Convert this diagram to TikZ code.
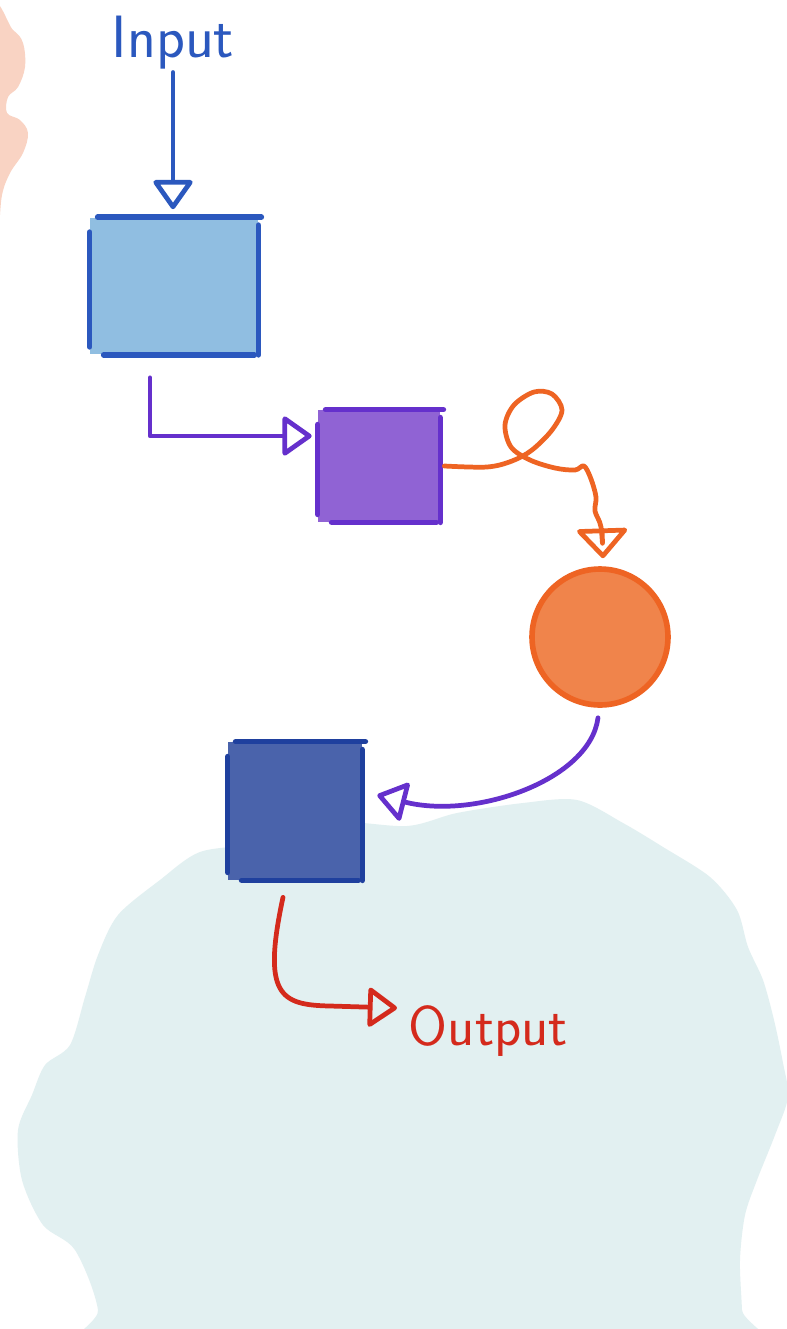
\documentclass[tikz,border=0pt]{standalone}
\usepackage{fontspec}
\usetikzlibrary{arrows.meta,positioning,calc}

\definecolor{inkblue}{HTML}{2B58BE}
\definecolor{inkpurple}{HTML}{6530CC}
\definecolor{inkorange}{HTML}{EE6423}
\definecolor{inknavy}{HTML}{1F409E}
\definecolor{inkred}{HTML}{D42A1C}
\definecolor{boxblue}{HTML}{90BEE1}
\definecolor{boxpurple}{HTML}{9063D4}
\definecolor{boxnavy}{HTML}{4A63AB}
\definecolor{dotorange}{HTML}{F0844B}
\definecolor{washcyan}{HTML}{E2F0F1}
\definecolor{washpink}{HTML}{F9D3C3}

\begin{document}
\begin{tikzpicture}[x=0.02cm, y=-0.02cm,
      box/.style   = {rectangle, draw=none, inner sep=0pt},
      edge/.style  = {line width=3.2pt, line cap=round},
      arrow/.style = {line width=2.7pt, line cap=round, line join=round,
                      -{Triangle[open, round, length=0.62cm, width=0.85cm]}},
      txt/.style   = {inner sep=2pt, font=\sffamily\fontsize{32}{34}\selectfont}
    ]
    % page and watercolour washes
    \useasboundingbox (0,0) rectangle (787,1329);
    \fill[white] (0,0) rectangle (787,1329);
    \begin{scope}
      \clip (0,0) rectangle (787,1329);
      \fill[washpink] plot[smooth cycle, tension=0.6] coordinates {
        (-10,15) (13,30) (23,43) (25,67) (18,87) (8,97) (7,113) (20,120)
        (28,133) (23,153) (10,173) (2,195) (-2,230) (-12,240)};
      \fill[washcyan] plot[smooth cycle, tension=0.5] coordinates {
        (200,852) (260,843) (330,822) (407,826) (457,813) (523,803)
        (577,800) (623,823) (663,847) (710,877) (737,910) (748,947)
        (763,980) (774,1020) (783,1063) (788,1097) (775,1135) (757,1180)
        (745,1215) (740,1260) (742,1310) (745,1380) (95,1380) (98,1310)
        (75,1250) (43,1225) (22,1180) (18,1130) (32,1095) (45,1065)
        (70,1045) (85,997) (98,955) (118,915) (160,880)};
    \end{scope}

    % nodes
    \node[txt, inkblue, font=\sffamily\fontsize{34}{36}\selectfont, anchor=base]
      (input) at (173,57) {Input};
    \node[box, fill=boxblue, minimum width=3.36cm, minimum height=2.74cm]
      (b1) at (174,286) {};
    \node[box, fill=boxpurple, minimum width=2.44cm, minimum height=2.24cm]
      (b2) at (379,466) {};
    \node[circle, fill=dotorange, draw=inkorange, line width=3.2pt,
          minimum size=2.72cm, inner sep=0pt] (c1) at (600,637) {};
    \node[box, fill=boxnavy, minimum width=2.68cm, minimum height=2.76cm]
      (b3) at (295,811) {};
    \node[txt, inkred, anchor=base west] (output) at (405,1045) {Output};

    % sketched box outlines
    \foreach \b/\c in {b1/inkblue, b2/inkpurple, b3/inknavy} {
      \draw[edge, \c] ($(\b.north west)+(8,0)$)  -- ($(\b.north east)+(3,0)$);
      \draw[edge, \c] ($(\b.north west)+(0,15)$) -- ($(\b.south west)+(0,-8)$);
      \draw[edge, \c] ($(\b.north east)+(0,8)$)  -- (\b.south east);
      \draw[edge, \c] ($(\b.south west)+(14,0)$) -- ($(\b.south east)+(-4,0)$);
    }

    % connectors
    \draw[arrow, inkblue, shorten >=0.16cm] (input.south) -- (input.south |- b1.north);
    \draw[arrow, inkpurple] ($(b1.south)+(-24,23)$) |- ($(b2.west)+(-6,-30)$);
    \draw[arrow, inkorange, -{Triangle[open, round, length=0.62cm, width=1.1cm]}]
      plot[smooth, tension=0.55] coordinates {
        ($(b2.east)+(4,0)$) (487,467) (512,461) (532,450) (552,430) (562,410)
        (552,394) (534,392) (514,405) (505,425) (511,447) (530,460) (555,468)
        (575,470) (584,466) (591,479) (596,497) (595,511) (601,527)
        ($(c1.north)+(3,-8)$)};
    \draw[arrow, inkpurple] ($(c1.south)+(-2,10)$)
      .. controls (590,780) and (475,820) .. ($(b3.east)+(15,-16)$);
    \draw[arrow, inkred] ($(b3.south)+(-12,17)$)
      .. controls (262,995) and (280,1005) .. (330,1006)
      -- ($(output.base west)+(-8,-37)$);
  \end{tikzpicture}
\end{document}
